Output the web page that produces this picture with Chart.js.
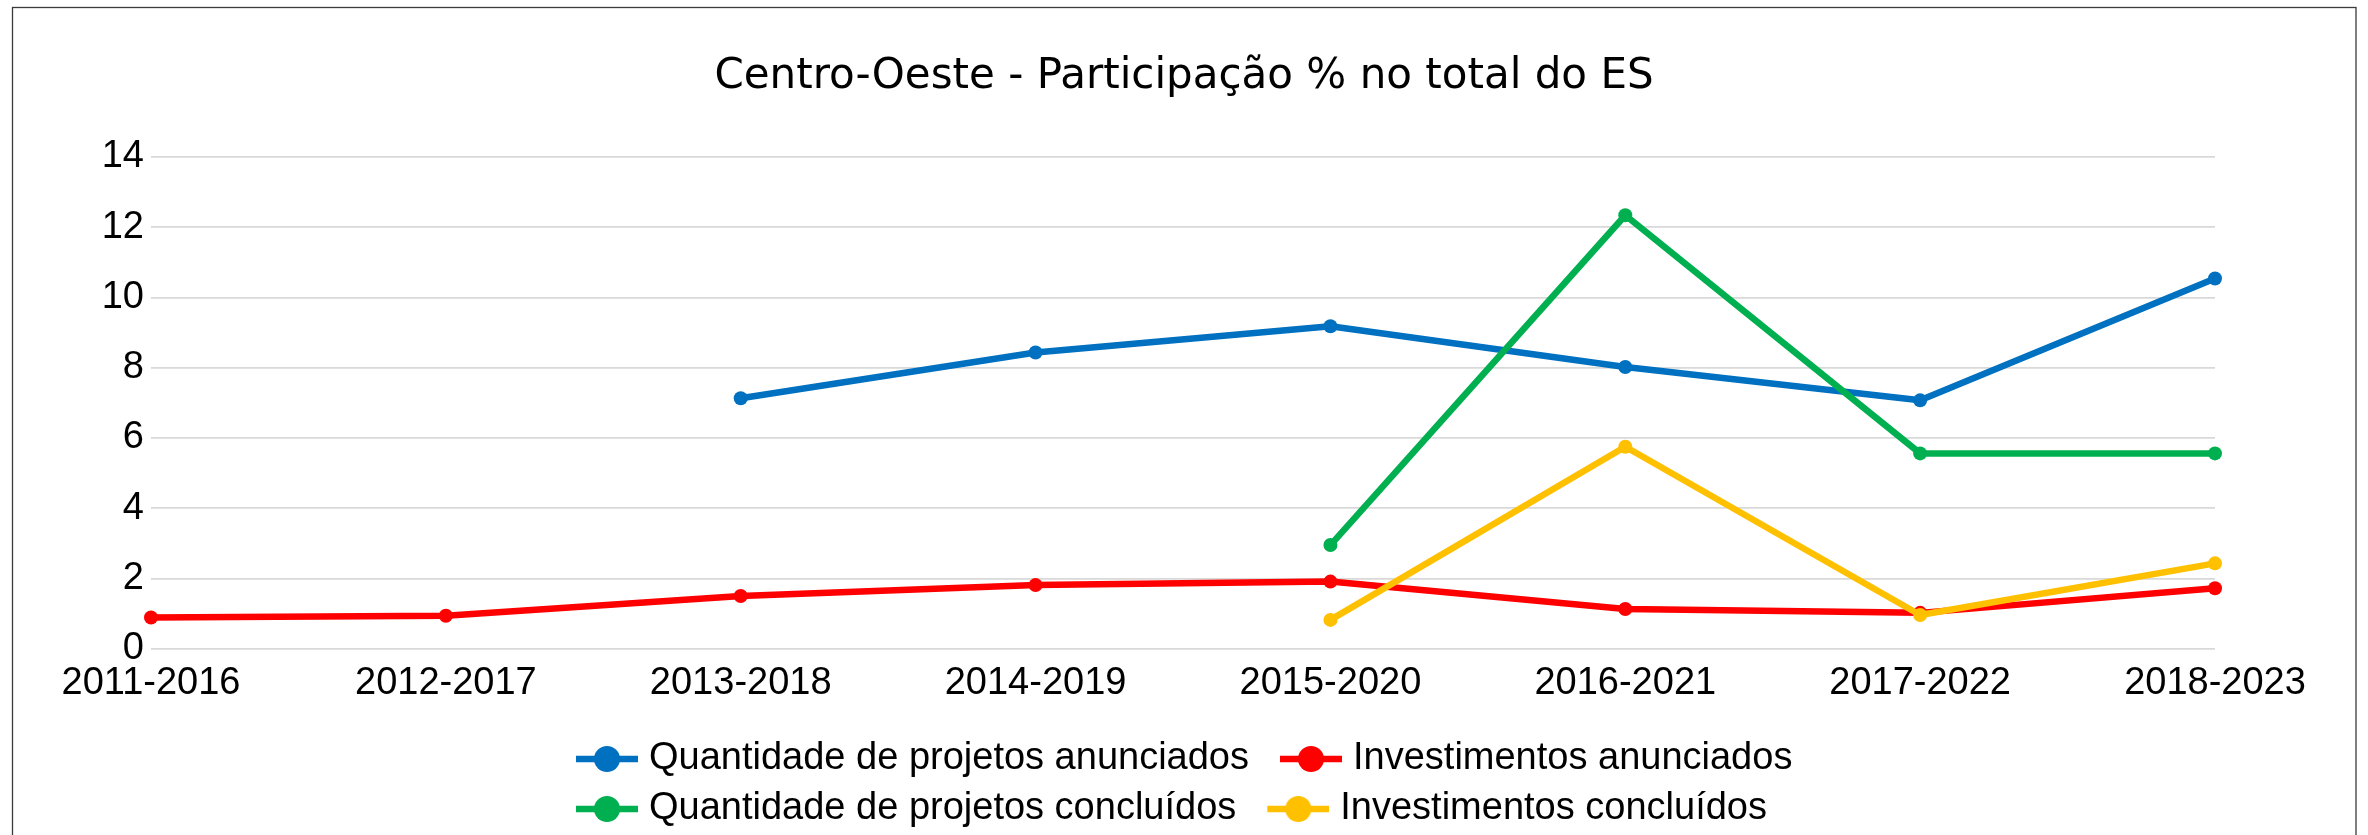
<!DOCTYPE html>
<html>
<head>
<meta charset="utf-8">
<script src="https://cdn.jsdelivr.net/npm/chart.js@4.4.1/dist/chart.umd.min.js"></script>
<style>
  html, body { margin: 0; padding: 0; background: #fff; }
  canvas { display: block; }
</style>
</head>
<body>
<canvas id="grafico" width="2368" height="835"></canvas>
<script>
// dados (participação % no total do ES)
var periodos = ['2011-2016', '2012-2017', '2013-2018', '2014-2019', '2015-2020', '2016-2021', '2017-2022', '2018-2023'];
var qtdAnunciados = [null, null, 7.13, 8.43, 9.18, 8.02, 7.07, 10.54];
var invAnunciados = [0.89, 0.94, 1.50, 1.81, 1.91, 1.13, 1.02, 1.72];
var qtdConcluidos = [null, null, null, null, 2.95, 12.34, 5.56, 5.56];
var invConcluidos = [null, null, null, null, 0.82, 5.75, 0.96, 2.43];
var yTicks = [0, 2, 4, 6, 8, 10, 12, 14];

var fonte = { family: 'Liberation Sans', size: 38 };

// marcador da legenda: linha com bolinha
function marcador(cor) {
    var c = document.createElement('canvas');
    c.width = 89;
    c.height = 30;
    var g = c.getContext('2d');
    g.strokeStyle = cor;
    g.lineWidth = 6.3;
    g.beginPath();
    g.moveTo(27, 15);
    g.lineTo(89, 15);
    g.stroke();
    g.fillStyle = cor;
    g.beginPath();
    g.arc(58, 15, 13, 0, Math.PI * 2);
    g.fill();
    return c;
}

// legenda em duas colunas, como no Excel
var legendaDuasColunas = {
    id: 'legendaDuasColunas',
    afterInit: function (chart) {
        var lg = chart.legend;
        var fitRows = lg._fitRows;
        var draw = lg.draw;
        lg._fitRows = function () {
            var mw = this.maxWidth;
            this.maxWidth = 1300;
            var h = fitRows.apply(this, arguments);
            this.maxWidth = mw;
            return h;
        };
        lg.draw = function () {
            var l = this.left, r = this.right;
            this.left = 545;
            this.right = 545 + 1300;
            draw.apply(this, arguments);
            this.left = l;
            this.right = r;
        };
    }
};

var moldura = {
    id: 'moldura',
    beforeDraw: function (chart) {
        var ctx = chart.ctx;
        ctx.save();
        ctx.fillStyle = '#fff';
        ctx.fillRect(0, 0, chart.width, chart.height);
        ctx.strokeStyle = '#3a3a3a';
        ctx.lineWidth = 1.3;
        ctx.strokeRect(12.5, 7.5, 2343.5, 900);
        ctx.restore();
    }
};

var ctx = document.getElementById('grafico');

var grafico = new Chart(ctx, {
    type: 'line',
    data: {
        labels: periodos,
        datasets: [{
            label: 'Quantidade de projetos anunciados',
            data: qtdAnunciados,
            borderColor: '#0070C0',
            backgroundColor: '#0070C0',
            pointBackgroundColor: '#0070C0',
            order: 3
        }, {
            label: 'Investimentos anunciados',
            data: invAnunciados,
            borderColor: '#FF0000',
            backgroundColor: '#FF0000',
            pointBackgroundColor: '#FF0000',
            order: 2
        }, {
            label: 'Quantidade de projetos concluídos',
            data: qtdConcluidos,
            borderColor: '#00B050',
            backgroundColor: '#00B050',
            pointBackgroundColor: '#00B050',
            order: 1
        }, {
            label: 'Investimentos concluídos',
            data: invConcluidos,
            borderColor: '#FFC000',
            backgroundColor: '#FFC000',
            pointBackgroundColor: '#FFC000',
            order: 0
        }]
    },
    options: {
        responsive: false,
        animation: false,
        devicePixelRatio: 1,
        events: [],
        layout: { padding: { top: 0, left: 0, right: 0, bottom: -3 } },
        elements: {
            line: { tension: 0, borderWidth: 6.5, borderJoinStyle: 'round', borderCapStyle: 'round', fill: false },
            point: { radius: 7, borderWidth: 0, hoverRadius: 7 }
        },
        plugins: {
            title: {
                display: true,
                text: 'Centro-Oeste - Participação % no total do ES',
                color: '#000',
                font: { family: 'DejaVu Sans', size: 42, weight: 'normal' },
                padding: { top: 52, bottom: 54.5 }
            },
            legend: {
                position: 'bottom',
                align: 'start',
                labels: {
                    usePointStyle: true,
                    pointStyleWidth: 73,
                    padding: 12,
                    color: '#000',
                    font: fonte,
                    sort: function (a, b) { return a.datasetIndex - b.datasetIndex; },
                    generateLabels: function (chart) {
                        var itens = Chart.defaults.plugins.legend.labels.generateLabels(chart);
                        itens.forEach(function (it) {
                            it.pointStyle = marcador(chart.data.datasets[it.datasetIndex].borderColor);
                        });
                        return itens;
                    }
                }
            },
            tooltip: { enabled: false }
        },
        scales: {
            x: {
                offset: false,
                grid: { display: false },
                border: { display: false },
                ticks: { color: '#000', font: fonte, padding: 4, autoSkip: false, maxRotation: 0 },
                afterFit: function (s) { s.height = 79.3; s.paddingRight = 153; }
            },
            y: {
                min: yTicks[0],
                max: yTicks[yTicks.length - 1],
                ticks: { stepSize: 2, color: '#000', font: fonte, padding: 7 },
                grid: { color: '#d9d9d9', lineWidth: 1.7, drawTicks: false },
                border: { display: false },
                afterFit: function (s) { s.width = 151; }
            }
        }
    },
    plugins: [legendaDuasColunas, moldura]
});
</script>
</body>
</html>
